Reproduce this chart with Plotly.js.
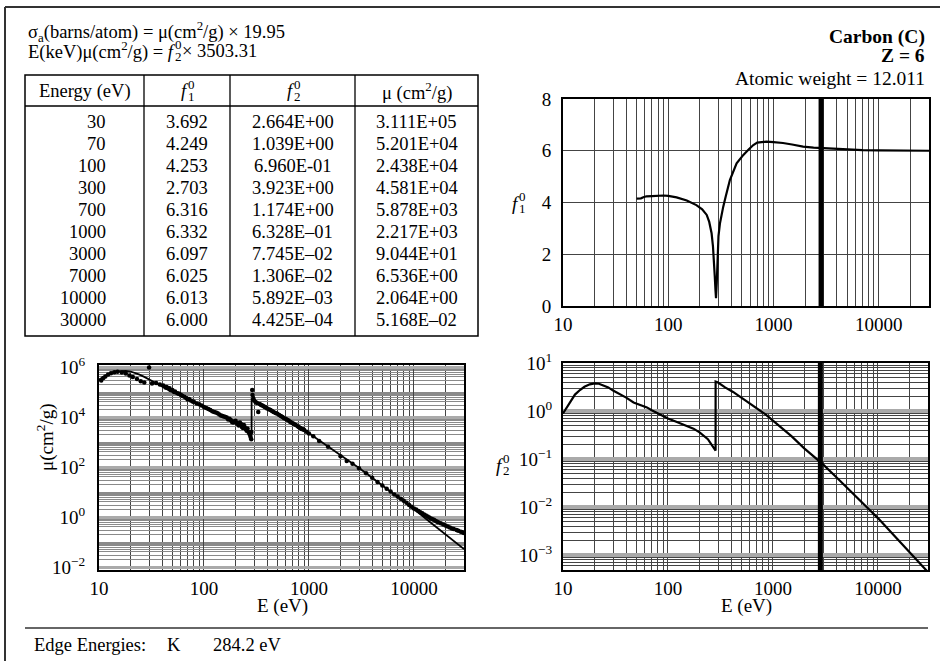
<!DOCTYPE html>
<html><head><meta charset="utf-8">
<script src="https://cdn.plot.ly/plotly-3.0.1.min.js"></script>
<style>body{margin:0;background:#fff}#chart{width:940px;height:661px}</style>
</head><body><div id="chart"></div>
<script>
// ---------------- data ----------------
const tableEnergy = ['30','70','100','300','700','1000','3000','7000','10000','30000'];
const tableF1 = ['3.692','4.249','4.253','2.703','6.316','6.332','6.097','6.025','6.013','6.000'];
const tableF2 = ['2.664E+00','1.039E+00','6.960E-01','3.923E+00','1.174E+00','6.328E\u201301','7.745E\u201302','1.306E\u201302','5.892E\u201303','4.425E\u201304'];
const tableMu = ['3.111E+05','5.201E+04','2.438E+04','4.581E+04','5.878E+03','2.217E+03','9.044E+01','6.536E+00','2.064E+00','5.168E\u201302'];

const f1Energy = [50,55,58,62,70,80,90,100,120,150,185,210,232,245,258,266,272,277,281,284.2,289,295,300,310,320,333,350,385,446,517,580,643,700,760,855,1000,1230,1500,1910,2400,3000,4270,7000,10000,20000,30000];
const f1Values = [4.15,4.16,4.2,4.24,4.249,4.27,4.27,4.253,4.2,4.08,3.9,3.74,3.52,3.25,2.81,2.3,1.8,1.1,0.6,0.3,0.9,1.9,2.703,3.2,3.55,3.84,4.2,4.87,5.51,5.84,6.05,6.22,6.316,6.34,6.35,6.332,6.3,6.24,6.16,6.12,6.097,6.05,6.025,6.013,6.003,6.0];

const f2Energy = [10,11,12,13,14.5,16,18,20,22,24,27,30,35,40,47,55,63,70,80,100,120,150,175,200,220,240,260,275,284.2,284.3,290,300,350,417,500,600,700,850,1000,1200,1500,2000,2500,3000,4000,5000,7000,10000,15000,20000,30000];
const f2Values = [0.89,1.25,1.69,2.2,2.74,3.2,3.6,3.77,3.7,3.46,3.1,2.664,2.25,1.9,1.51,1.33,1.19,1.039,0.9,0.696,0.6,0.5,0.43,0.36,0.31,0.26,0.2,0.165,0.15,4.1,4.05,3.923,3.1,2.5,1.9,1.45,1.174,0.85,0.6328,0.45,0.3,0.165,0.11,0.07745,0.0424,0.0265,0.01306,0.005892,0.00226,0.00115,0.0004425];

const muEnergy = [10,11,12,13,14.5,16,18,20,22,24,27,30,35,40,47,55,63,70,80,100,120,150,175,200,220,240,260,275,284.2,284.3,290,300,350,417,500,600,700,850,1000,1200,1500,2000,2500,3000,4000,5000,7000,10000,15000,20000,30000];
const muValues = [3.12e5,3.98e5,4.93e5,5.93e5,6.62e5,7.01e5,7.01e5,6.6e5,5.89e5,5.05e5,4.02e5,3.111e5,2.25e5,1.66e5,1.13e5,8.47e4,6.62e4,5.201e4,3.94e4,2.438e4,1.75e4,1.17e4,8.61e3,6.31e3,4.94e3,3.8e3,2.7e3,2.1e3,1.85e3,5.05e4,4.89e4,4.581e4,3.1e4,2.1e4,1.33e4,8.47e3,5.878e3,3.5e3,2.217e3,1314,700.7,289,154,90.44,37.1,18.6,6.536,2.064,0.528,0.201,0.05168];

const expEnergy = [10.5,11,11.5,12.2,13,14,15,16.5,18,19.5,21,23,25,27,30,32,35,38,41,43,44,45,47,48,50,52,53,56,58,60,62,65,68,70,72,75,78,80,85,90,95,100,105,110,115,120,125,130,135,140,145,150,155,160,165,170,175,180,185,190,195,200,205,210,215,220,225,230,235,240,245,250,255,260,265,270,275,278,282,283,288,290,295,300,310,320,329,340,350,360,370,380,390,400,415,430,445,460,480,500,520,540,560,580,600,620,640,660,680,700,720,750,780,800,830,850,880,900,950,1000,1100,1250,1520,2000,2290,2600,3000,3500,4000,4500,5000,5500,6000,6500,7000,7500,8000,8500,9000,9500,10000,10500,11000,11500,12000,12500,13000,13500,14000,14500,15000,15500,16000,16500,17000,18000,19000,20000,21000,22000,23000,24000,25500,26500,28000,29000,30000];
const expValues = [2.9e5,3.6e5,4.2e5,5.0e5,5.6e5,6.2e5,6.4e5,6.0e5,5.5e5,4.6e5,4.0e5,3.3e5,2.7e5,2.4e5,9.5e5,2.2e5,2.3e5,2.0e5,1.8e5,1.5e5,1.6e5,1.45e5,1.4e5,1.2e5,1.2e5,1.0e5,1.05e5,9.0e4,8.5e4,7.8e4,7.0e4,6.5e4,5.6e4,5.0e4,5.2e4,4.6e4,4.2e4,4.1e4,3.5e4,3.2e4,2.9e4,2.5e4,2.3e4,2.1e4,1.9e4,1.7e4,1.6e4,1.5e4,1.4e4,1.25e4,1.15e4,1.1e4,1.05e4,1.0e4,9.5e3,8.0e3,8.5e3,7.5e3,6.3e3,6.0e3,6.8e3,7.0e3,5.8e3,5.2e3,4.6e3,6.0e3,5.2e3,4.0e3,3.6e3,4.8e3,3.9e3,3.2e3,2.8e3,3.5e3,2.6e3,2.2e3,1.9e3,1.6e3,1.3e3,2.5e3,1.2e5,7.5e4,5.5e4,4.6e4,4.0e4,3.6e4,1.6e4,3.3e4,3.05e4,2.9e4,2.7e4,2.5e4,2.4e4,2.2e4,2.05e4,1.9e4,1.75e4,1.6e4,1.45e4,1.35e4,1.2e4,1.1e4,1.0e4,9.0e3,8.5e3,7.8e3,7.2e3,6.5e3,6.0e3,5.6e3,5.3e3,4.8e3,4.3e3,4.0e3,3.6e3,3.3e3,3.2e3,3.0e3,2.6e3,2.2e3,1.7e3,1.1e3,650,270,175,135,90,56,37,25,18,13.5,10.5,8.0,6.6,5.4,4.5,3.7,3.0,2.6,2.2,2.0,1.75,1.55,1.42,1.25,1.15,1.05,0.95,0.87,0.82,0.78,0.7,0.66,0.62,0.56,0.5,0.46,0.42,0.38,0.35,0.33,0.3,0.28,0.26,0.245,0.23];

const boundaryEnergy = [2830, 2830];
const f1Span = [0, 8];
const f2Span = [1e-4, 100];

const xTickVals = [10,100,1000,10000];
const xTickText = ['10','100','1000','10000'];
const f1TickVals = [0,2,4,6,8];
const f1TickText = ['0','2','4','6','8'];
const muTickVals = [1e-2,1e0,1e2,1e4,1e6];
const muTickText = ['10<sup>\u22122</sup>','10<sup>0</sup>','10<sup>2</sup>','10<sup>4</sup>','10<sup>6</sup>'];
const f2TickVals = [1e-3,1e-2,1e-1,1e0,1e1];
const f2TickText = ['10<sup>\u22123</sup>','10<sup>\u22122</sup>','10<sup>\u22121</sup>','10<sup>0</sup>','10<sup>1</sup>'];

const headerLine1 = '\u03c3<sub>a</sub>(barns/atom) = \u03bc(cm<sup>2</sup>/g) \u00d7 19.95';
const headerLine2a = 'E(keV)\u03bc(cm<sup>2</sup>/g) = <i>f</i>';
const headerLine2b = '\u00d7 3503.31';
const elementName = 'Carbon (C)';
const atomicNumber = 'Z = 6';
const atomicWeight = 'Atomic weight = 12.011';
const edgeText = ['Edge Energies:', 'K', '284.2 eV'];

// ---------------- layout helpers ----------------
const W = 940, H = 661;
const FONT = '"Liberation Serif", "Times New Roman", serif';
const FS = 18.5;
const TFS = 19;
const px = x => x / W, py = y => 1 - y / H;
const ctx = document.createElement('canvas').getContext('2d');
function textW(s, size, style) { ctx.font = (style || '') + ' ' + size + 'px "Liberation Serif"'; return ctx.measureText(s).width; }
function ann(text, x, y, o) {
  return Object.assign({text: text, x: px(x), y: py(y), xref: 'paper', yref: 'paper', showarrow: false,
    xanchor: 'left', yanchor: 'middle', borderpad: 0, font: {family: FONT, size: FS, color: '#000'}}, o || {});
}
function stackedScripts(xLeft, yMid, sub, size) {
  const small = Math.round(size * 0.68);
  return [ann('0', xLeft, yMid - size * 0.36, {font: {family: FONT, size: small, color: '#000'}}),
          ann(sub, xLeft, yMid + size * 0.3, {font: {family: FONT, size: small, color: '#000'}})];
}
function stackedF(xLeft, yMid, sub, size) {
  const wf = textW('f', size, 'italic');
  return [ann('<i>f</i>', xLeft, yMid, {font: {family: FONT, size: size, color: '#000'}})]
    .concat(stackedScripts(xLeft + wf + 2, yMid, sub, size));
}
function line(x0, y0, x1, y1, w, c) {
  return {type: 'line', xref: 'paper', yref: 'paper', x0: px(x0), y0: py(y0), x1: px(x1), y1: py(y1),
    line: {color: c || '#000', width: w || 1.5}};
}
function minorLog(lo, hi, withDecades) {
  const v = [];
  for (let d = lo; d <= hi; d++) {
    if (withDecades) v.push(Math.pow(10, d));
    for (let m = 2; m <= 9; m++) v.push(m * Math.pow(10, d));
  }
  return v;
}

const tickFont = {family: FONT, size: TFS, color: '#000'};
function xAxis(domain, anchor) {
  return {type: 'log', domain: domain, anchor: anchor, range: [1, Math.log10(30000)],
    tickmode: 'array', tickvals: xTickVals, ticktext: xTickText, ticks: '', tickfont: tickFont,
    showgrid: true, gridcolor: '#444', gridwidth: 1,
    minor: {tickmode: 'array', tickvals: minorLog(1, 4).filter(v => v < 30000), showgrid: true, gridcolor: '#444', gridwidth: 1, ticks: ''},
    showline: true, mirror: true, linecolor: '#000', linewidth: 2, zeroline: false, fixedrange: true};
}

// ---------------- traces ----------------
const black = '#000';
const traces = [
  {x: f1Energy, y: f1Values, xaxis: 'x', yaxis: 'y', mode: 'lines', line: {color: black, width: 2.2}, hoverinfo: 'skip'},
  {x: boundaryEnergy, y: f1Span, xaxis: 'x', yaxis: 'y', mode: 'lines', line: {color: black, width: 5}, hoverinfo: 'skip'},
  {x: muEnergy, y: muValues, xaxis: 'x2', yaxis: 'y2', mode: 'lines', line: {color: black, width: 1.8}, hoverinfo: 'skip'},
  {x: expEnergy, y: expValues, xaxis: 'x2', yaxis: 'y2', mode: 'markers', marker: {color: black, size: 4.5}, hoverinfo: 'skip'},
  {x: f2Energy, y: f2Values, xaxis: 'x3', yaxis: 'y3', mode: 'lines', line: {color: black, width: 2.2}, hoverinfo: 'skip'},
  {x: boundaryEnergy, y: f2Span, xaxis: 'x3', yaxis: 'y3', mode: 'lines', line: {color: black, width: 5}, hoverinfo: 'skip'}
];

// ---------------- annotations & shapes ----------------
const annotations = [];
const shapes = [];
shapes.push(line(5, 7, 940, 7, 2, '#333'));
shapes.push(line(5, 7, 5, 661, 2, '#333'));
annotations.push(ann(headerLine1, 27, 31));
annotations.push(ann(headerLine2a, 27, 51));
const w2a = textW('E(keV)\u03bc(cm', FS) + textW('2', FS * 0.7) + textW('/g) = ', FS) + textW('f', FS, 'italic');
annotations.push(...stackedScripts(27 + w2a + 2, 51, '2', FS));
annotations.push(ann(headerLine2b, 27 + w2a + 2 + textW('0', Math.round(FS * 0.68)) + 1, 51));
annotations.push(ann('<b>' + elementName + '</b>', 926, 37, {xanchor: 'right', font: {family: FONT, size: 19.5, color: '#000'}}));
annotations.push(ann('<b>' + atomicNumber + '</b>', 926, 56, {xanchor: 'right', font: {family: FONT, size: 19.5, color: '#000'}}));
annotations.push(ann(atomicWeight, 926, 78, {xanchor: 'right', font: {family: FONT, size: 19.5, color: '#000'}}));

// table
const T = {l: 25, r: 478, t: 75, b: 336, h: 106, cols: [144, 230, 355], row0: 122, dy: 22, hy: 91};
shapes.push({type: 'rect', xref: 'paper', yref: 'paper', x0: px(T.l), x1: px(T.r), y0: py(T.b), y1: py(T.t), line: {color: '#000', width: 1.5}});
shapes.push(line(T.l, T.h, T.r, T.h, 1.3));
T.cols.forEach(c => shapes.push(line(c, T.t, c, T.b, 1.3)));
const colCenters = [(T.l + T.cols[0]) / 2, (T.cols[0] + T.cols[1]) / 2, (T.cols[1] + T.cols[2]) / 2, (T.cols[2] + T.r) / 2];
annotations.push(ann('Energy (eV)', colCenters[0], T.hy, {xanchor: 'center'}));
const wfS = textW('f', FS, 'italic') + 2 + textW('0', Math.round(FS * 0.68));
annotations.push(...stackedF(colCenters[1] - wfS / 2, T.hy, '1', FS));
annotations.push(...stackedF(colCenters[2] - wfS / 2, T.hy, '2', FS));
annotations.push(ann('\u03bc (cm<sup>2</sup>/g)', colCenters[3], T.hy, {xanchor: 'center'}));
tableEnergy.forEach((e, i) => {
  const y = T.row0 + i * T.dy;
  annotations.push(ann(e, 107, y, {xanchor: 'right'}));
  annotations.push(ann(tableF1[i], colCenters[1], y, {xanchor: 'center'}));
  annotations.push(ann(tableF2[i], colCenters[2], y, {xanchor: 'center'}));
  annotations.push(ann(tableMu[i], colCenters[3], y, {xanchor: 'center'}));
});

// axis labels
annotations.push(...stackedF(511, 203, '1', TFS));
annotations.push(...stackedF(495, 465, '2', TFS));
annotations.push(ann('\u03bc(cm<sup>2</sup>/g)', 45, 437, {xanchor: 'center', textangle: -90, font: {family: FONT, size: TFS, color: '#000'}}));
annotations.push(ann('E (eV)', 282, 606, {xanchor: 'center', font: {family: FONT, size: TFS, color: '#000'}}));
annotations.push(ann('E (eV)', 746, 606, {xanchor: 'center', font: {family: FONT, size: TFS, color: '#000'}}));

// footer
shapes.push(line(25, 628, 928, 628, 2, '#666'));
annotations.push(ann(edgeText[0], 33, 645));
annotations.push(ann(edgeText[1], 166, 645));
annotations.push(ann(edgeText[2], 212, 645));

const layout = {
  width: W, height: H, margin: {l: 0, r: 0, t: 0, b: 0}, showlegend: false,
  paper_bgcolor: '#fff', plot_bgcolor: '#fff', font: {family: FONT, size: FS, color: '#000'},
  xaxis: xAxis([563 / W, 929 / W], 'y'),
  yaxis: {domain: [1 - 306 / H, 1 - 99 / H], anchor: 'x', range: [0, 8], tickmode: 'array', tickvals: f1TickVals, ticktext: f1TickText,
    ticks: '', tickfont: tickFont, ticklabelstandoff: 6, showgrid: true, gridcolor: '#444', gridwidth: 1,
    showline: true, mirror: true, linecolor: '#000', linewidth: 2, zeroline: false, fixedrange: true},
  xaxis2: xAxis([99 / W, 464 / W], 'y2'),
  yaxis2: {type: 'log', domain: [1 - 570 / H, 1 - 365 / H], anchor: 'x2', range: [-2.12, 6.08], tickmode: 'array', tickvals: muTickVals, ticktext: muTickText,
    ticks: '', tickfont: tickFont, ticklabelstandoff: 8, showgrid: true, gridcolor: '#aaa', gridwidth: 3,
    minor: {tickmode: 'array', tickvals: minorLog(-3, 6, true).filter(v => !muTickVals.includes(v)), showgrid: true, gridcolor: '#8a8a8a', gridwidth: 1, ticks: ''},
    showline: true, mirror: true, linecolor: '#000', linewidth: 2, zeroline: false, fixedrange: true},
  xaxis3: xAxis([563 / W, 928 / W], 'y3'),
  yaxis3: {type: 'log', domain: [1 - 570 / H, 1 - 363 / H], anchor: 'x3', range: [-3.31, 1], tickmode: 'array', tickvals: f2TickVals, ticktext: f2TickText,
    ticks: '', tickfont: tickFont, ticklabelstandoff: 5, showgrid: true, gridcolor: '#aaa', gridwidth: 4,
    minor: {tickmode: 'array', tickvals: minorLog(-4, 1), showgrid: true, gridcolor: '#444', gridwidth: 1, ticks: ''},
    showline: true, mirror: true, linecolor: '#000', linewidth: 2, zeroline: false, fixedrange: true},
  annotations: annotations, shapes: shapes
};
Plotly.newPlot('chart', traces, layout, {staticPlot: true, displayModeBar: false});
</script>
</body></html>
